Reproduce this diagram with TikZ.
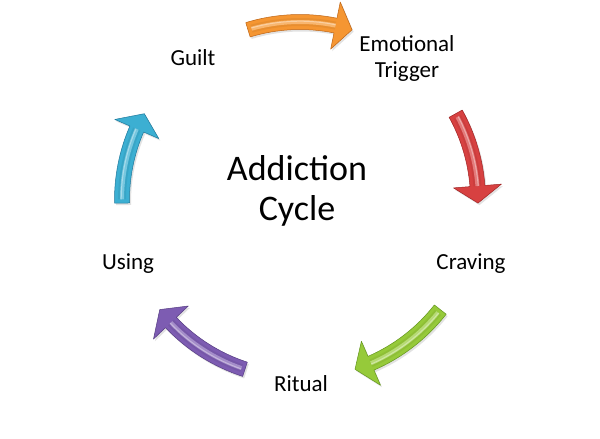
\documentclass[tikz,border=0pt]{standalone}
\usepackage{fontspec}
\setmainfont{Carlito}
\begin{document}
\begin{tikzpicture}[x=1pt,y=1pt,
  lbl/.style={font=\fontsize{23}{26}\selectfont, align=center, anchor=base, inner sep=0pt},
  ttl/.style={font=\fontsize{36}{40}\selectfont, align=center, anchor=base, inner sep=0pt}]
\useasboundingbox[fill=white] (0,0) rectangle (600,439);
\def\Rm{178}\def\Ro{185.5}\def\Ri{170.5}\def\Rh{202}\def\Rl{154}
\newcommand\cycarrow[4]{%
  \pgfmathsetmacro\ncka{#2+5.5}%
  \pgfmathsetmacro\tla{#1-1.2}%
  \fill[black!25, opacity=0.45, shift={(1.5,-2)}]
    (#1:\Ro) arc[start angle=#1, end angle=\ncka, radius=\Ro] -- (\ncka:\Rh) -- (#2:\Rm)
    -- (\ncka:\Rl) -- (\ncka:\Ri) arc[start angle=\ncka, end angle=#1, radius=\Ri] -- cycle;
  \filldraw[fill=#3, draw=#4, line width=0.5pt, line join=round]
    (#1:\Ro) arc[start angle=#1, end angle=\ncka, radius=\Ro] -- (\ncka:\Rh) -- (#2:\Rm)
    -- (\ncka:\Rl) -- (\ncka:\Ri) arc[start angle=\ncka, end angle=#1, radius=\Ri] -- cycle;
  \draw[#3!85!black, line width=8pt, opacity=0.35] (\tla:\Rm) arc[start angle=\tla, end angle=\ncka, radius=\Rm];
  \draw[#3!70!white, line width=4pt] (\tla:\Rm) arc[start angle=\tla, end angle=\ncka, radius=\Rm];
  \draw[#3!45!white, line width=1pt] (\tla:\Rm+0.8) arc[start angle=\tla, end angle=\ncka, radius=\Rm+0.8];
}
\definecolor{cOr}{RGB}{245,150,50}\definecolor{cOrD}{RGB}{190,100,20}
\definecolor{cRd}{RGB}{215,65,65}\definecolor{cRdD}{RGB}{160,35,35}
\definecolor{cGr}{RGB}{150,202,58}\definecolor{cGrD}{RGB}{100,150,30}
\definecolor{cPu}{RGB}{125,92,178}\definecolor{cPuD}{RGB}{85,60,130}
\definecolor{cCy}{RGB}{60,175,210}\definecolor{cCyD}{RGB}{30,120,155}
\begin{scope}[shift={(300,239)}]
  \cycarrow{107}{73}{cOr}{cOrD}
  \cycarrow{29}{-1}{cRd}{cRdD}
  \cycarrow{-38}{-72}{cGr}{cGrD}
  \cycarrow{-108}{-142}{cPu}{cPuD}
  \cycarrow{181}{151}{cCy}{cCyD}
\end{scope}
\node[ttl] (title) at (297,218) {Addiction\\Cycle};
\node[lbl] (guilt) at (193,373) {Guilt};
\node[lbl] (emo) at (407,361) {Emotional\\Trigger};
\node[lbl] (crav) at (471,169) {Craving};
\node[lbl] (rit) at (301,47) {Ritual};
\node[lbl] (using) at (128,169) {Using};
\end{tikzpicture}
\end{document}
